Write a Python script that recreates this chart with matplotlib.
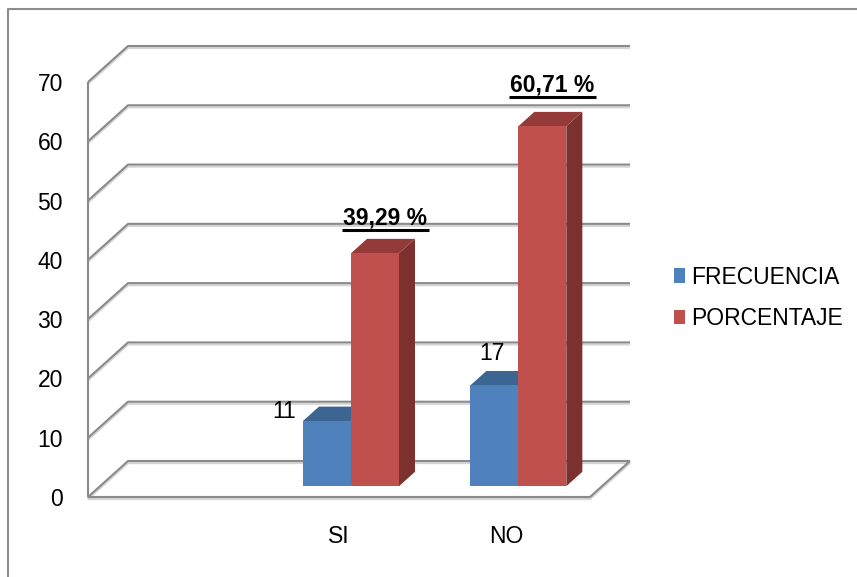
import matplotlib
matplotlib.use("Agg")
import matplotlib.pyplot as plt
from matplotlib.patches import Polygon, Patch
from matplotlib.lines import Line2D
from matplotlib import patheffects as pe

# ---- data -------------------------------------------------------------
categories = ["", "SI", "NO"]          # first slot is left blank in the sheet
frecuencia = [None, 11, 17]
porcentaje = [None, 39.29, 60.71]
series_names = ["FRECUENCIA", "PORCENTAJE"]
y_ticks = [0, 10, 20, 30, 40, 50, 60, 70]

# ---- styling ----------------------------------------------------------
plt.rcParams['font.family'] = ['Liberation Sans', 'DejaVu Sans']
FS = 16.5

FRONT = ["#4F81BD", "#C0504D"]
TOP = ["#3D6592", "#943B39"]
SIDE = ["#35577F", "#7C312F"]
GRID = "#8a8a8a"

W, H, DPI = 857, 577, 100
fig = plt.figure(figsize=(W / DPI, H / DPI), dpi=DPI)
fig.patch.set_facecolor("white")

# front plane of the 3-D box (pixels)
left, right, bottom, top = 88, 590, 497, 82
n = len(categories)
ax = fig.add_axes([left / W, 1 - bottom / H, (right - left) / W, (bottom - top) / H])
ax.set_xlim(0, n)
ax.set_ylim(0, 70)
for s in ax.spines.values():
    s.set_visible(False)
ax.patch.set_visible(False)

# depth of the box and of the bars, in data units
dx = 40 / (right - left) * n
dy = 36 / (bottom - top) * 70
z0, z1 = 0.3, 0.7
bar_w = 48 / (right - left) * n

# ---- walls, floor and gridlines ---------------------------------------
grid_kw = dict(color=GRID, lw=1.5, clip_on=False, solid_capstyle="butt", zorder=1,
               path_effects=[pe.SimpleLineShadow(offset=(0, -1.5), shadow_color="#d4d4d4", alpha=1),
                             pe.Normal()])
for v in y_ticks:
    ax.plot([0, dx, n + dx], [v, v + dy, v + dy], **grid_kw)
ax.plot([0, 0], [0, 70], **grid_kw)
ax.plot([0, n, n + dx], [0, 0, dy], **grid_kw)

# ---- 3-D bars ---------------------------------------------------------
ddx, ddy = (z1 - z0) * dx, (z1 - z0) * dy
bar_tops = {}
for i in range(n):
    for j, vals in enumerate([frecuencia, porcentaje]):
        v = vals[i]
        if v is None:
            continue
        x0 = i + 0.5 - bar_w + j * bar_w + z0 * dx
        y0 = z0 * dy
        x1, y1 = x0 + bar_w, y0 + v
        front = Polygon([(x0, y0), (x1, y0), (x1, y1), (x0, y1)], closed=True,
                        facecolor=FRONT[j], edgecolor="none", clip_on=False, zorder=3)
        topf = Polygon([(x0, y1), (x1, y1), (x1 + ddx, y1 + ddy), (x0 + ddx, y1 + ddy)], closed=True,
                       facecolor=TOP[j], edgecolor="none", clip_on=False, zorder=3)
        side = Polygon([(x1, y0), (x1 + ddx, y0 + ddy), (x1 + ddx, y1 + ddy), (x1, y1)], closed=True,
                       facecolor=SIDE[j], edgecolor="none", clip_on=False, zorder=3)
        for p in (side, topf, front):
            ax.add_patch(p)
        bar_tops[(i, j)] = (x0, y1)

# ---- value labels -----------------------------------------------------
# offsets in pixels from the top-left front corner of each bar
freq_offsets = {1: (-19, 3), 2: (22, 25)}
pct_offsets = {1: (34, 29), 2: (34, 35)}
px = 72 / DPI
for i, v in enumerate(frecuencia):
    if v is None:
        continue
    ox, oy = freq_offsets[i]
    ax.annotate(f"{v:d}", xy=bar_tops[(i, 0)], xytext=(ox * px, oy * px), textcoords="offset points",
                ha="center", va="baseline", fontsize=FS, color="black", zorder=5, annotation_clip=False)

pct_texts = []
for i, v in enumerate(porcentaje):
    if v is None:
        continue
    ox, oy = pct_offsets[i]
    t = ax.annotate(f"{v:.2f}".replace(".", ",") + " %", xy=bar_tops[(i, 1)], xytext=(ox * px, oy * px),
                    textcoords="offset points", ha="center", va="baseline", fontsize=FS,
                    fontweight="bold", color="black", zorder=5, annotation_clip=False)
    pct_texts.append(t)

# ---- axes labels ------------------------------------------------------
ax.set_yticks(y_ticks)
ax.set_yticklabels([str(t) for t in y_ticks])
ax.set_xticks([i + 0.5 for i in range(n)])
ax.set_xticklabels(categories)
ax.tick_params(axis="y", length=0, labelsize=FS, pad=18)
ax.tick_params(axis="x", length=0, labelsize=FS, pad=20)

# ---- legend -----------------------------------------------------------
handles = [Patch(facecolor=c, edgecolor="none") for c in FRONT]
fig.legend(handles, series_names, loc="center left", bbox_to_anchor=(674 / W, 1 - 298 / H),
           frameon=False, fontsize=FS, handlelength=0.5, handleheight=0.6,
           handletextpad=0.25, labelspacing=0.8, borderpad=0, borderaxespad=0)

# ---- chart border -----------------------------------------------------
fig.add_artist(Line2D([8 / W, 8 / W, 1], [0, 1 - 9 / H, 1 - 9 / H], transform=fig.transFigure,
                      color="#8c8c8c", lw=1.5))

# ---- underline the percentage labels ---------------------------------
fig.canvas.draw()
inv = fig.transFigure.inverted()
for t in pct_texts:
    bb = t.get_window_extent()
    (fx0, fy), (fx1, _) = inv.transform([(bb.x0 - 1, bb.y0 - 0.5), (bb.x1 + 2, bb.y0 - 0.5)])
    fig.add_artist(Line2D([fx0, fx1], [fy, fy], transform=fig.transFigure, color="black", lw=2.2,
                          solid_capstyle="butt"))

fig.savefig("out.png", dpi=DPI)
